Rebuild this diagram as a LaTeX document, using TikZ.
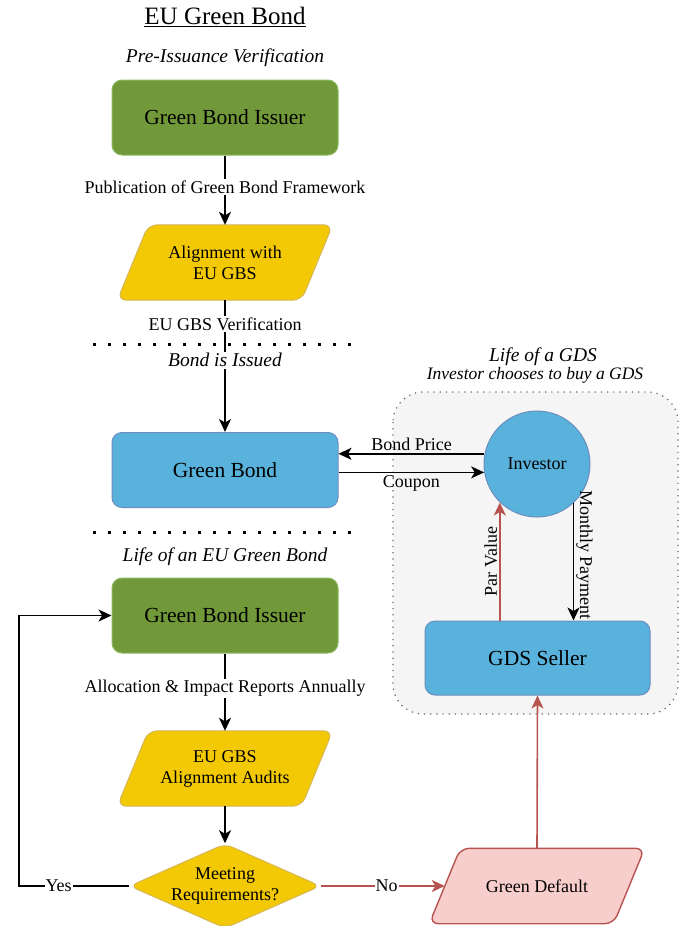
\documentclass[tikz,border=0pt]{standalone}
\usepackage{fontspec}
\setmainfont{Liberation Serif}
\usetikzlibrary{shapes.geometric,arrows.meta,calc,backgrounds}

\definecolor{issuerfill}{RGB}{113,153,57}
\definecolor{issuerline}{RGB}{140,185,100}
\definecolor{yellowfill}{RGB}{242,201,4}
\definecolor{yellowline}{RGB}{214,182,86}
\definecolor{bluefill}{RGB}{88,178,220}
\definecolor{blueline}{RGB}{108,142,191}
\definecolor{pinkfill}{RGB}{248,206,204}
\definecolor{redline}{RGB}{184,84,80}
\definecolor{panelfill}{RGB}{245,245,245}
\definecolor{panelline}{RGB}{100,100,100}

\tikzset{
  boxtext/.style={font=\fontsize{21.5}{24}\selectfont},
  smalltext/.style={font=\fontsize{18}{21}\selectfont},
  issuer/.style={boxtext, rectangle, rounded corners=10pt, fill=issuerfill,
    draw=issuerline, line width=1pt, minimum width=226pt, minimum height=75pt},
  bondbox/.style={boxtext, rectangle, rounded corners=10pt, fill=bluefill,
    draw=blueline, line width=1pt, minimum width=226pt, minimum height=75pt},
  % text holder of a slanted box; the outline is drawn by \slantbody
  slanted/.style={smalltext, rectangle, minimum width=215pt, minimum height=75pt,
    align=center, inner sep=0pt},
  gbsshape/.style={fill=yellowfill, draw=yellowline, line width=1pt, rounded corners=9pt},
  defaultshape/.style={fill=pinkfill, draw=redline, line width=1.4pt, rounded corners=9pt},
  decision/.style={smalltext, diamond, aspect=2.26, minimum width=190pt,
    minimum height=84pt, inner sep=0pt, fill=yellowfill, draw=yellowline,
    line width=1pt, rounded corners=8pt, align=center},
  investorcirc/.style={smalltext, circle, minimum size=106pt, inner sep=0pt,
    fill=bluefill, draw=blueline, line width=1pt},
  heading/.style={font=\fontsize{19.5}{22}\selectfont\itshape},
  lbl/.style={smalltext, fill=white, inner sep=1.5pt},
  flow/.style={line width=1.6pt, -{Stealth[length=13pt,width=12pt,inset=3.5pt]}},
  redflow/.style={flow, draw=redline, color=redline},
  separator/.style={line width=3pt, dash pattern=on 3pt off 12pt},
}

% parallelogram outline behind a slanted text holder: #1 style, #2 node name
\newcommand\slantbody[2]{%
  \begin{pgfonlayer}{background}
    \path[#1] (#2.south west) -- ([xshift=-31pt]#2.south east) -- (#2.north east)
      -- ([xshift=31pt]#2.north west) -- cycle;
  \end{pgfonlayer}}

\begin{document}
\begin{tikzpicture}[x=1pt,y=-1pt]
\useasboundingbox (0,0) rectangle (682,926);

% GDS panel behind the investor and the seller
\path[fill=panelfill, draw=panelline, line width=1.2pt,
      dash pattern=on 1.2pt off 5pt, rounded corners=30pt]
  (393,392) rectangle (678,714);

% titles
\node[font=\fontsize{25}{28}\selectfont] (title) at (225,17) {\underline{EU Green Bond}};
\node[heading] (pre) at (225,58) {Pre-Issuance Verification};
\node[heading] (lifeeu) at (225,557) {Life of an EU Green Bond};
\node[heading] (lifegds) at (543,357) {Life of a GDS};
\node[font=\fontsize{17.5}{20}\selectfont\itshape] (choose) at (535,375) {Investor chooses to buy a GDS};

% phase separators
\draw[separator] (93,344) -- (352,344);
\draw[separator] (93,532) -- (352,532);

% nodes
\node[issuer] (iss1) at (225,117.5) {Green Bond Issuer};
\node[slanted] (align) at (225,262.5) {Alignment with\\EU GBS};
\slantbody{gbsshape}{align}
\node[bondbox] (gb) at (225,470) {Green Bond};
\node[issuer] (iss2) at (225,615.5) {Green Bond Issuer};
\node[slanted] (audit) at (225,768.5) {EU GBS\\Alignment Audits};
\slantbody{gbsshape}{audit}
\node[decision] (meet) at (225,886) {Meeting\\Requirements?};
\node[slanted] (gd) at (537,886) {Green Default};
\slantbody{defaultshape}{gd}
\node[investorcirc] (inv) at (537,464) {Investor};
\node[bondbox, minimum width=225pt, minimum height=74pt] (seller) at (537.5,658) {GDS Seller};

\coordinate (loopx) at (19,0);
\coordinate (gdin) at ([xshift=15.5pt]gd.west);

% issuance flow
\draw[flow] (iss1) -- node[lbl, pos=0.46] {Publication of Green Bond Framework} (align);
\draw[flow] (align) -- node[lbl, pos=0.18] {EU GBS Verification}
                       node[lbl, pos=0.455, font=\fontsize{19.5}{22}\selectfont\itshape] {Bond is Issued} (gb);

% life of the bond
\draw[flow] (iss2) -- node[lbl, pos=0.45] {Allocation \& Impact Reports Annually} (audit);
\draw[flow] (audit) -- (meet);
\draw[flow] (meet.west) -- node[lbl, pos=0.64, inner sep=1pt] {Yes} (meet.west -| loopx) |- (iss2.west);
\draw[redflow] (meet.east) -- node[lbl, pos=0.53, text=black, inner sep=1pt] {No} (gdin);
\draw[redflow] (gd.north) -- (seller.south);

% bond and GDS cash flows
\draw[flow] (inv.169) -- node[smalltext, above, inner sep=2pt] {Bond Price} (inv.169 -| gb.east);
\draw[flow] (inv.189 -| gb.east) -- node[smalltext, below, inner sep=2pt] {Coupon} (inv.189);
\draw[redflow] (seller.north -| inv.226) -- node[smalltext, sloped, above, text=black, inner sep=2pt] {Par Value} (inv.226);
\draw[flow] (inv.-47) -- node[smalltext, sloped, above, inner sep=2pt, pos=0.44] {Monthly Payment} (inv.-47 |- seller.north);
\end{tikzpicture}
\end{document}
